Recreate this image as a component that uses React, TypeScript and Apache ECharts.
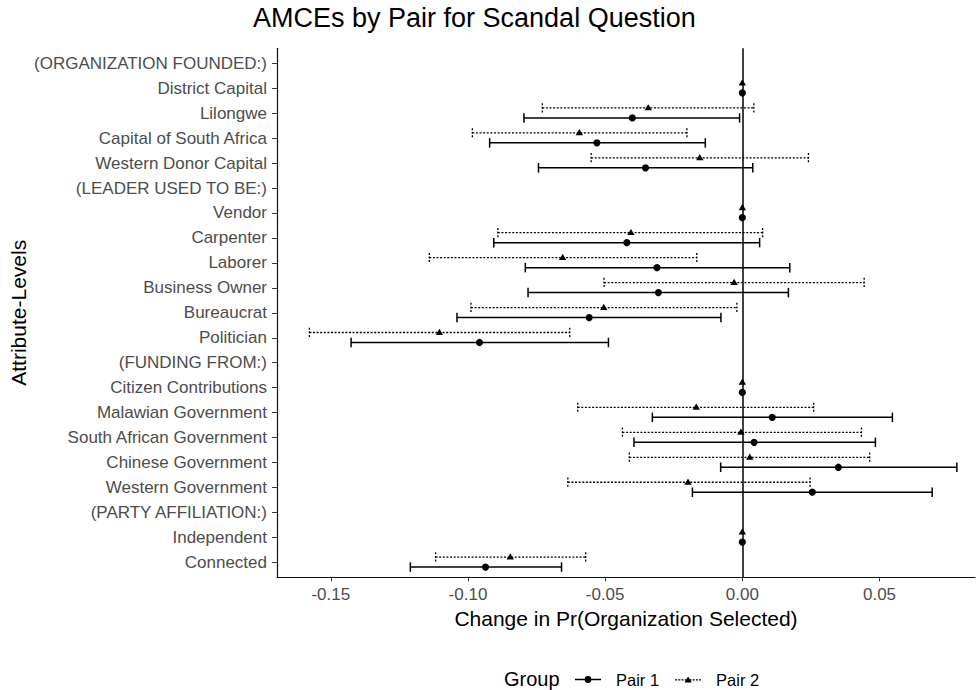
import React, { useEffect, useRef } from "react";
import * as echarts from "echarts";

const categories = [
  "(ORGANIZATION FOUNDED:)",
  "District Capital",
  "Lilongwe",
  "Capital of South Africa",
  "Western Donor Capital",
  "(LEADER USED TO BE:)",
  "Vendor",
  "Carpenter",
  "Laborer",
  "Business Owner",
  "Bureaucrat",
  "Politician",
  "(FUNDING FROM:)",
  "Citizen Contributions",
  "Malawian Government",
  "South African Government",
  "Chinese Government",
  "Western Government",
  "(PARTY AFFILIATION:)",
  "Independent",
  "Connected",
];

const pair1Est = [null, 0, -0.0401, -0.053, -0.0353, null, 0, -0.0421, -0.0311, -0.0306, -0.0558, -0.0958, null, 0, 0.0109, 0.0043, 0.035, 0.0255, null, 0, -0.0936];
const pair1Lo = [null, 0, -0.0796, -0.0921, -0.0743, null, 0, -0.0906, -0.0791, -0.0781, -0.104, -0.1426, null, 0, -0.0328, -0.0395, -0.0079, -0.0182, null, 0, -0.121];
const pair1Hi = [null, 0, -0.001, -0.0135, 0.0038, null, 0, 0.0063, 0.0173, 0.0168, -0.0078, -0.0488, null, 0, 0.0547, 0.0485, 0.0782, 0.0692, null, 0, -0.0659];

const pair2Est = [null, 0, -0.0343, -0.0594, -0.0155, null, 0, -0.0406, -0.0655, -0.003, -0.0505, -0.1104, null, 0, -0.0168, -0.0005, 0.0027, -0.0198, null, 0, -0.0846];
const pair2Lo = [null, 0, -0.0729, -0.0984, -0.0551, null, 0, -0.0891, -0.1141, -0.0504, -0.0989, -0.1578, null, 0, -0.06, -0.0437, -0.0412, -0.0636, null, 0, -0.1118];
const pair2Hi = [null, 0, 0.0042, -0.0202, 0.0241, null, 0, 0.0074, -0.0166, 0.0444, -0.002, -0.0629, null, 0, 0.026, 0.0434, 0.0464, 0.0247, null, 0, -0.0571];

const xTicks = [-0.15, -0.1, -0.05, 0, 0.05];
const groupNames = ["Pair 1", "Pair 2"];

const FONT = "Liberation Sans, Arial, sans-serif";

function buildData(lo: (number | null)[], hi: (number | null)[], est: (number | null)[]) {
  const out: number[][] = [];
  for (let i = 0; i < categories.length; i++) {
    if (est[i] === null) continue;
    out.push([lo[i] as number, hi[i] as number, est[i] as number, i]);
  }
  return out;
}

const CAP = 0.19;

function makeRender(offset: number, kind: "solid" | "dotted") {
  return (params: any, api: any) => {
    const lo = api.value(0);
    const hi = api.value(1);
    const est = api.value(2);
    const yv = api.value(3) + offset;
    const pLo = api.coord([lo, yv]);
    const pHi = api.coord([hi, yv]);
    const pEst = api.coord([est, yv]);
    const yTop = api.coord([lo, yv - CAP])[1];
    const yBot = api.coord([lo, yv + CAP])[1];
    const style: any = {
      stroke: "#000",
      lineWidth: kind === "dotted" ? 1.3 : 1.5,
      fill: null,
    };
    if (kind === "dotted") style.lineDash = [2, 1.6];
    const children: any[] = [];
    if (lo !== hi) {
      children.push({
        type: "line",
        shape: { x1: pLo[0], y1: pLo[1], x2: pHi[0], y2: pHi[1] },
        style,
      });
      children.push({
        type: "line",
        shape: { x1: pLo[0], y1: yTop, x2: pLo[0], y2: yBot },
        style,
      });
      children.push({
        type: "line",
        shape: { x1: pHi[0], y1: yTop, x2: pHi[0], y2: yBot },
        style,
      });
    }
    if (kind === "solid") {
      children.push({
        type: "circle",
        shape: { cx: pEst[0], cy: pEst[1], r: 3.6 },
        style: { fill: "#000" },
      });
    } else {
      const cx = pEst[0];
      const cy = pEst[1];
      children.push({
        type: "polygon",
        shape: {
          points: [
            [cx - 3.7, cy + 2.4],
            [cx, cy - 3.8],
            [cx + 3.7, cy + 2.4],
          ],
        },
        style: { fill: "#000" },
      });
    }
    return { type: "group", children };
  };
}

const iconPair1 =
  "path://M0,4.3H26V5.7H0Z M9.6,5A3.4,3.4 0 1 1 16.4,5A3.4,3.4 0 1 1 9.6,5Z";
const iconPair2 =
  "path://M0,4.3h2v1.4h-2Z M3.2,4.3h2v1.4h-2Z M6.4,4.3h2v1.4h-2Z M17.6,4.3h2v1.4h-2Z M20.8,4.3h2v1.4h-2Z M24,4.3h2v1.4h-2Z M9.6,4.3h2v1.4h-2Z M14.4,4.3h2v1.4h-2Z M9.4,7.6L13,1.6L16.6,7.6Z";

export default function App() {
  const ref = useRef<HTMLDivElement>(null);
  useEffect(() => {
    if (!ref.current) return;
    const chart = echarts.init(ref.current, null, { renderer: "svg" });
    const option: any = {
      animation: false,
      backgroundColor: "#ffffff",
      textStyle: { fontFamily: FONT },
      title: [
        {
          text: "AMCEs by Pair for Scandal Question",
          left: 253,
          top: 4,
          padding: 0,
          textStyle: { fontFamily: FONT, fontSize: 27, fontWeight: "normal", color: "#000" },
        },
        {
          text: "Group",
          left: 504,
          top: 669,
          padding: 0,
          textStyle: { fontFamily: FONT, fontSize: 20, fontWeight: "normal", color: "#000" },
        },
      ],
      legend: {
        left: 575,
        top: 671,
        padding: 0,
        orient: "horizontal",
        itemWidth: 26,
        itemHeight: 8,
        itemGap: 16,
        data: [
          { name: groupNames[0], icon: iconPair1 },
          { name: groupNames[1], icon: iconPair2 },
        ],
        itemStyle: { borderWidth: 0 },
        textStyle: {
          fontFamily: FONT,
          fontSize: 16.5,
          color: "#000",
          padding: [0, 0, 0, 10],
        },
      },
      grid: { left: 277, right: 1, top: 48.3, bottom: 112.7, outerBoundsMode: "none", containLabel: false },
      xAxis: {
        type: "value",
        min: -0.1696,
        max: 0.0848,
        name: "Change in Pr(Organization Selected)",
        nameLocation: "middle",
        nameGap: 31,
        nameMoveOverlap: false,
        nameTextStyle: { fontFamily: FONT, fontSize: 21, color: "#000" },
        axisLine: { show: true, onZero: false, lineStyle: { color: "#111", width: 1.2 } },
        axisTick: {
          show: true,
          length: 4,
          customValues: xTicks,
          lineStyle: { color: "#333", width: 1 },
        },
        axisLabel: {
          customValues: xTicks,
          margin: 9,
          fontFamily: FONT,
          fontSize: 17,
          color: "#4D4D4D",
          formatter: (v: number) => v.toFixed(2),
        },
        splitLine: { show: false },
      },
      yAxis: {
        type: "value",
        min: -0.6,
        max: 20.6,
        inverse: true,
        name: "Attribute-Levels",
        nameLocation: "middle",
        nameRotate: 90,
        nameGap: 248,
        nameMoveOverlap: false,
        nameTextStyle: { fontFamily: FONT, fontSize: 21, color: "#000" },
        axisLine: { show: true, onZero: false, lineStyle: { color: "#111", width: 1.2 } },
        axisTick: {
          show: true,
          length: 5,
          customValues: categories.map((_, i) => i),
          lineStyle: { color: "#333", width: 1 },
        },
        axisLabel: {
          customValues: categories.map((_, i) => i),
          margin: 10,
          fontFamily: FONT,
          fontSize: 17,
          color: "#4D4D4D",
          formatter: (v: number) => categories[Math.round(v)] ?? "",
        },
        splitLine: { show: false },
      },
      series: [
        {
          type: "line",
          name: "zero",
          data: [],
          silent: true,
          z: 1,
          markLine: {
            silent: true,
            symbol: ["none", "none"],
            label: { show: false },
            lineStyle: { color: "#000", width: 1.5, type: "solid" },
            data: [{ xAxis: 0 }],
          },
        },
        {
          type: "custom",
          name: groupNames[0],
          itemStyle: { color: "#000" },
          renderItem: makeRender(0.19, "solid"),
          encode: { x: [0, 1, 2], y: 3 },
          data: buildData(pair1Lo, pair1Hi, pair1Est),
          z: 3,
        },
        {
          type: "custom",
          name: groupNames[1],
          itemStyle: { color: "#000" },
          renderItem: makeRender(-0.21, "dotted"),
          encode: { x: [0, 1, 2], y: 3 },
          data: buildData(pair2Lo, pair2Hi, pair2Est),
          z: 3,
        },
      ],
    };
    chart.setOption(option);
    return () => {
      chart.dispose();
    };
  }, []);
  return (
    <div
      ref={ref}
      style={{ position: "absolute", left: 0, top: 0, width: 976, height: 690 }}
    />
  );
}
